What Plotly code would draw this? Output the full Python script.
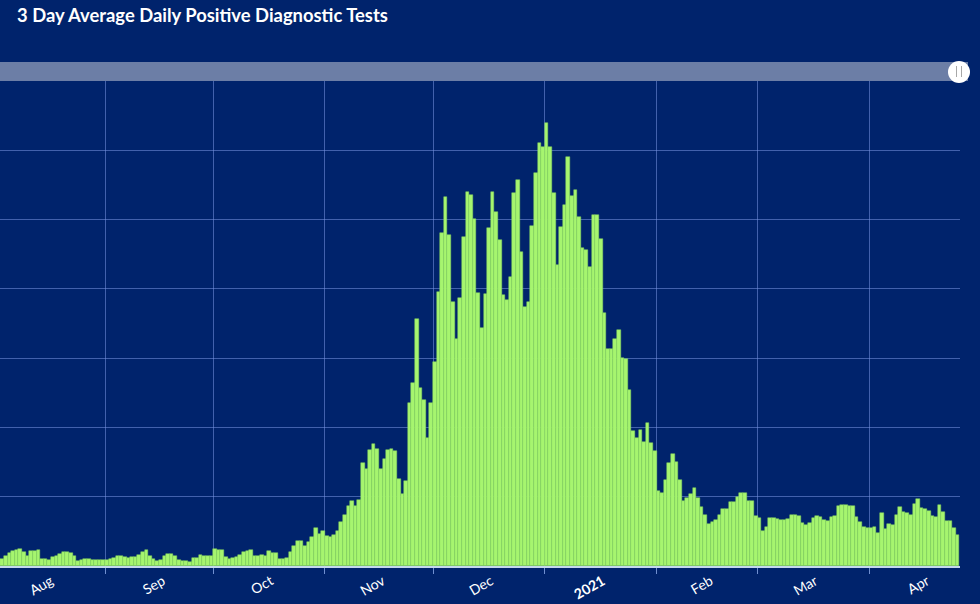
import plotly.graph_objects as go
import pandas as pd

# ---------------- data (3-day average daily positive tests) ----------------
start_date = "2020-08-03"

aug_2020 = [101, 144, 192, 221, 226, 240, 207, 144, 212, 212, 226, 96, 96, 82, 125,
            144, 173, 202, 202, 183, 150, 67, 82, 96, 96, 82, 82, 82, 82]
sep_2020 = [82, 96, 120, 140, 149, 135, 115, 125, 135, 154, 202, 226, 150, 106, 70,
            80, 150, 170, 170, 140, 85, 68, 78, 65, 118, 122, 154, 140, 146, 150]
oct_2020 = [245, 231, 231, 125, 106, 120, 135, 154, 200, 220, 231, 150, 144, 154, 144,
            212, 192, 183, 101, 101, 115, 205, 285, 355, 358, 285, 345, 423, 555, 460, 500]
nov_2020 = [430, 425, 450, 510, 640, 740, 868, 938, 863, 957, 1481, 1400, 1674, 1760, 1688,
            1395, 1539, 1674, 1688, 1664, 1251, 1034, 1231, 2347, 2636, 3559, 2564, 2395, 1852, 2347]
dec_2020 = [2949, 3959, 4800, 5330, 4776, 3814, 3271, 3862, 4743, 5392, 5354, 5002, 3934, 3430, 3920,
            4873, 5402, 5113, 4704, 3910, 3838, 4175, 5387, 5570, 4536, 3742, 3814, 4906, 5675, 6099, 6051]
jan_2021 = [6397, 6041, 5387, 4343, 4896, 5209, 5897, 5334, 5426, 5030, 4584, 4560, 4315, 5063, 5063,
            4714, 3650, 3127, 3127, 3271, 3405, 2997, 2987, 2540, 1952, 1842, 1962, 1794, 2068, 1780, 1664]
feb_2021 = [1087, 1049, 1241, 1481, 1616, 1506, 1241, 938, 976, 1039, 1121, 976, 847, 736,
            606, 640, 664, 736, 818, 818, 928, 928, 1000, 1049, 1049, 943, 943, 722]
mar_2021 = [688, 510, 568, 688, 688, 680, 664, 664, 673, 736, 736, 722, 625, 596, 625,
            700, 722, 712, 664, 654, 712, 722, 866, 880, 880, 866, 866, 702, 640, 568, 548]
apr_2021 = [548, 558, 481, 760, 529, 606, 587, 736, 847, 779, 760, 741, 895, 972, 837,
            818, 798, 722, 712, 885, 779, 654, 654, 548, 447]

values = aug_2020 + sep_2020 + oct_2020 + nov_2020 + dec_2020 + jan_2021 + feb_2021 + mar_2021 + apr_2021
dates = pd.date_range(start_date, periods=len(values), freq="D")

# month boundaries (grid lines) and month labels (centred in each month)
month_starts = ["2020-09-01", "2020-10-01", "2020-11-01", "2020-12-01",
                "2021-01-01", "2021-02-01", "2021-03-01", "2021-04-01"]
label_dates = ["2020-08-17", "2020-09-17", "2020-10-17", "2020-11-17", "2020-12-17",
               "2021-01-17", "2021-02-16", "2021-03-17", "2021-04-17"]
label_text = ["Aug", "Sep", "Oct", "Nov", "Dec", "<b>2021</b>", "Feb", "Mar", "Apr"]

x_range = ["2020-08-02 21:00", "2021-04-26 04:00"]
y_range = [0, 7000]

# ---------------- style ----------------
BG = "#00236c"
BAR = "#a6f56f"
BAR_EDGE = "#86d75c"
GRID = "rgba(120,150,225,0.55)"
FONT = "Lato"

fig = go.Figure()
fig.add_trace(go.Bar(
    x=dates, y=values,
    xperiod=86400000, xperiodalignment="middle",
    marker=dict(color=BAR, line=dict(color=BAR_EDGE, width=0.5)),
    hoverinfo="x+y",
))

fig.update_layout(
    width=980, height=604,
    paper_bgcolor=BG, plot_bgcolor=BG,
    margin=dict(l=0, r=20, t=81, b=38),
    bargap=0,
    showlegend=False,
    title=dict(text="<b>3 Day Average Daily Positive Diagnostic Tests</b>",
               x=17 / 980, xanchor="left", xref="container",
               y=1 - 16 / 604, yanchor="middle", yref="container",
               font=dict(family=FONT, size=18.4, color="white")),
    xaxis=dict(
        type="date", range=x_range,
        tickmode="array", tickvals=label_dates, ticktext=label_text,
        tickangle=-30, ticks="", showgrid=False,
        tickfont=dict(family=FONT, size=14, color="white"),
        showline=True, linecolor="rgba(205,225,245,0.95)", linewidth=1.5,
        zeroline=False,
        minor=dict(tickmode="array", tickvals=month_starts, ticks="outside",
                   ticklen=6, tickwidth=1, tickcolor="rgba(140,170,235,0.8)",
                   showgrid=True, gridcolor=GRID, gridwidth=1),
    ),
    yaxis=dict(
        range=y_range, dtick=1000, showticklabels=False,
        showgrid=True, gridcolor=GRID, gridwidth=1,
        zeroline=False, showline=False, ticks="",
    ),
    shapes=[
        # scrollbar band
        dict(type="rect", xref="paper", yref="paper",
             x0=0, x1=968 / 960, y0=1.0, y1=(566 - 62) / 485,
             fillcolor="#6c7ea6", line=dict(width=0), layer="above"),
        # scrollbar handle
        dict(type="circle", xref="paper", yref="paper",
             x0=(959 - 11) / 960, x1=(959 + 11) / 960,
             y0=(566 - 83) / 485, y1=(566 - 61) / 485,
             fillcolor="white", line=dict(width=0), layer="above"),
        dict(type="line", xref="paper", yref="paper",
             x0=956.5 / 960, x1=956.5 / 960, y0=(566 - 77) / 485, y1=(566 - 66) / 485,
             line=dict(color="#a8a8a8", width=1), layer="above"),
        dict(type="line", xref="paper", yref="paper",
             x0=961.5 / 960, x1=961.5 / 960, y0=(566 - 77) / 485, y1=(566 - 66) / 485,
             line=dict(color="#a8a8a8", width=1), layer="above"),
    ],
)

fig.write_html("out.html")
